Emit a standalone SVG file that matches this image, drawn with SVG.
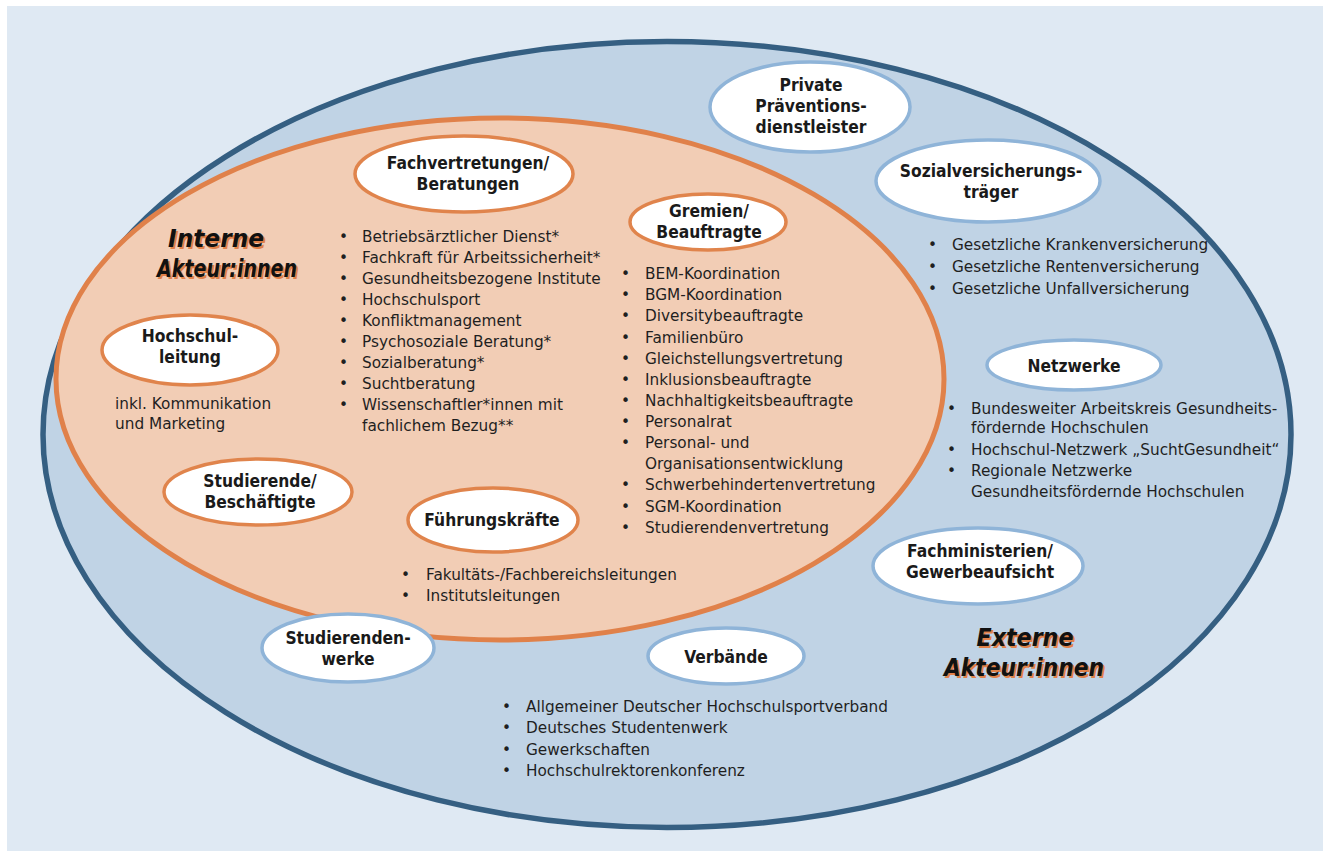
<svg xmlns="http://www.w3.org/2000/svg" width="1323" height="851" viewBox="0 0 1323 851">
<defs>
<style>
.lbl{font-family:"DejaVu Sans Condensed","DejaVu Sans",sans-serif;font-weight:bold;font-size:17.3px;fill:#1a1a1a;text-anchor:middle}
.txt{font-family:"DejaVu Sans",sans-serif;font-size:15.3px;fill:#1f1f1f}
.nb{fill:#ffffff;stroke:#8fb4d8;stroke-width:3.5}
.no{fill:#ffffff;stroke:#e0844c;stroke-width:3.5}
.ttl{font-family:"DejaVu Sans Condensed","DejaVu Sans",sans-serif;font-weight:bold;font-style:italic;font-size:24px;text-anchor:middle}
</style>
</defs>
<rect x="7" y="6" width="1316" height="845" fill="#dfe9f3"/>
<g id="extern">
<ellipse cx="667" cy="434.5" rx="624" ry="393" fill="#c0d3e5" stroke="#355f82" stroke-width="5.5"/>
</g>
<g id="intern">
<ellipse cx="500" cy="379" rx="444" ry="261" fill="#f2cdb5" stroke="#e0814a" stroke-width="5"/>
</g>
<g id="connectors"></g>
<g id="title-intern">
<text class="ttl" x="218" y="249" fill="#e0814a" textLength="96" lengthAdjust="spacingAndGlyphs">Interne</text>
<text class="ttl" x="216" y="247" fill="#111" textLength="96" lengthAdjust="spacingAndGlyphs">Interne</text>
<text class="ttl" x="229" y="279" fill="#e0814a" textLength="140" lengthAdjust="spacingAndGlyphs">Akteur:innen</text>
<text class="ttl" x="227" y="277" fill="#111" textLength="140" lengthAdjust="spacingAndGlyphs">Akteur:innen</text>
</g>
<g id="title-extern">
<text class="ttl" x="1027" y="648" fill="#e0814a" textLength="97" lengthAdjust="spacingAndGlyphs">Externe</text>
<text class="ttl" x="1025" y="646" fill="#111" textLength="97" lengthAdjust="spacingAndGlyphs">Externe</text>
<text class="ttl" x="1026" y="678" fill="#e0814a" textLength="160" lengthAdjust="spacingAndGlyphs">Akteur:innen</text>
<text class="ttl" x="1024" y="676" fill="#111" textLength="160" lengthAdjust="spacingAndGlyphs">Akteur:innen</text>
</g>
<g id="private">
<ellipse class="nb" cx="810" cy="107" rx="100" ry="45"/>
<text class="lbl" x="811" y="91">Private</text>
<text class="lbl" x="811" y="112">Präventions-</text>
<text class="lbl" x="811" y="133">dienstleister</text>
</g>
<g id="sozial">
<ellipse class="nb" cx="988" cy="181" rx="112" ry="41"/>
<text class="lbl" x="991" y="177">Sozialversicherungs-</text>
<text class="lbl" x="991" y="198">träger</text>
<text class="txt" x="928" y="250">•</text>
<text class="txt" x="952" y="250">Gesetzliche Krankenversicherung</text>
<text class="txt" x="928" y="272">•</text>
<text class="txt" x="952" y="272">Gesetzliche Rentenversicherung</text>
<text class="txt" x="928" y="294">•</text>
<text class="txt" x="952" y="294">Gesetzliche Unfallversicherung</text>
</g>
<g id="netzwerke">
<ellipse class="nb" cx="1074" cy="365" rx="87" ry="25"/>
<text class="lbl" x="1074" y="372">Netzwerke</text>
<text class="txt" x="947" y="414">•</text>
<text class="txt" x="971" y="414">Bundesweiter Arbeitskreis Gesundheits-</text>
<text class="txt" x="971" y="433">fördernde Hochschulen</text>
<text class="txt" x="947" y="455">•</text>
<text class="txt" x="971" y="455">Hochschul-Netzwerk „SuchtGesundheit“</text>
<text class="txt" x="947" y="476">•</text>
<text class="txt" x="971" y="476">Regionale Netzwerke</text>
<text class="txt" x="971" y="497">Gesundheitsfördernde Hochschulen</text>
</g>
<g id="fachministerien">
<ellipse class="nb" cx="978" cy="566" rx="105" ry="38"/>
<text class="lbl" x="980" y="557">Fachministerien/</text>
<text class="lbl" x="980" y="578">Gewerbeaufsicht</text>
</g>
<g id="verbaende">
<ellipse class="nb" cx="726" cy="656" rx="78" ry="28"/>
<text class="lbl" x="726" y="663">Verbände</text>
<text class="txt" x="502" y="712">•</text>
<text class="txt" x="526" y="712">Allgemeiner Deutscher Hochschulsportverband</text>
<text class="txt" x="502" y="733">•</text>
<text class="txt" x="526" y="733">Deutsches Studentenwerk</text>
<text class="txt" x="502" y="755">•</text>
<text class="txt" x="526" y="755">Gewerkschaften</text>
<text class="txt" x="502" y="776">•</text>
<text class="txt" x="526" y="776">Hochschulrektorenkonferenz</text>
</g>
<g id="studierendenwerke">
<ellipse class="nb" cx="348" cy="648" rx="86" ry="34"/>
<text class="lbl" x="348" y="644">Studierenden-</text>
<text class="lbl" x="348" y="665">werke</text>
</g>
<g id="fachvertretungen">
<ellipse class="no" cx="464" cy="174" rx="109" ry="38"/>
<text class="lbl" x="468" y="169">Fachvertretungen/</text>
<text class="lbl" x="468" y="190">Beratungen</text>
<text class="txt" x="339" y="242">•</text>
<text class="txt" x="362" y="242">Betriebsärztlicher Dienst*</text>
<text class="txt" x="339" y="263">•</text>
<text class="txt" x="362" y="263">Fachkraft für Arbeitssicherheit*</text>
<text class="txt" x="339" y="284">•</text>
<text class="txt" x="362" y="284">Gesundheitsbezogene Institute</text>
<text class="txt" x="339" y="305">•</text>
<text class="txt" x="362" y="305">Hochschulsport</text>
<text class="txt" x="339" y="326">•</text>
<text class="txt" x="362" y="326">Konfliktmanagement</text>
<text class="txt" x="339" y="347">•</text>
<text class="txt" x="362" y="347">Psychosoziale Beratung*</text>
<text class="txt" x="339" y="368">•</text>
<text class="txt" x="362" y="368">Sozialberatung*</text>
<text class="txt" x="339" y="389">•</text>
<text class="txt" x="362" y="389">Suchtberatung</text>
<text class="txt" x="339" y="410">•</text>
<text class="txt" x="362" y="410">Wissenschaftler*innen mit</text>
<text class="txt" x="362" y="431">fachlichem Bezug**</text>
</g>
<g id="gremien">
<ellipse class="no" cx="708" cy="222" rx="78" ry="28"/>
<text class="lbl" x="709" y="217">Gremien/</text>
<text class="lbl" x="709" y="238">Beauftragte</text>
<text class="txt" x="621" y="279">•</text>
<text class="txt" x="645" y="279">BEM-Koordination</text>
<text class="txt" x="621" y="300">•</text>
<text class="txt" x="645" y="300">BGM-Koordination</text>
<text class="txt" x="621" y="321">•</text>
<text class="txt" x="645" y="321">Diversitybeauftragte</text>
<text class="txt" x="621" y="343">•</text>
<text class="txt" x="645" y="343">Familienbüro</text>
<text class="txt" x="621" y="364">•</text>
<text class="txt" x="645" y="364">Gleichstellungsvertretung</text>
<text class="txt" x="621" y="385">•</text>
<text class="txt" x="645" y="385">Inklusionsbeauftragte</text>
<text class="txt" x="621" y="406">•</text>
<text class="txt" x="645" y="406">Nachhaltigkeitsbeauftragte</text>
<text class="txt" x="621" y="427">•</text>
<text class="txt" x="645" y="427">Personalrat</text>
<text class="txt" x="621" y="448">•</text>
<text class="txt" x="645" y="448">Personal- und</text>
<text class="txt" x="645" y="469">Organisationsentwicklung</text>
<text class="txt" x="621" y="490">•</text>
<text class="txt" x="645" y="490">Schwerbehindertenvertretung</text>
<text class="txt" x="621" y="512">•</text>
<text class="txt" x="645" y="512">SGM-Koordination</text>
<text class="txt" x="621" y="533">•</text>
<text class="txt" x="645" y="533">Studierendenvertretung</text>
</g>
<g id="hochschulleitung">
<ellipse class="no" cx="190" cy="350" rx="88" ry="35"/>
<text class="lbl" x="190" y="342">Hochschul-</text>
<text class="lbl" x="190" y="363">leitung</text>
<text class="txt" x="115" y="409">inkl. Kommunikation</text>
<text class="txt" x="115" y="429">und Marketing</text>
</g>
<g id="studierende">
<ellipse class="no" cx="258" cy="492" rx="94" ry="33"/>
<text class="lbl" x="260" y="487">Studierende/</text>
<text class="lbl" x="260" y="508">Beschäftigte</text>
</g>
<g id="fuehrungskraefte">
<ellipse class="no" cx="493" cy="520" rx="85" ry="32"/>
<text class="lbl" x="492" y="526">Führungskräfte</text>
<text class="txt" x="401" y="580">•</text>
<text class="txt" x="426" y="580">Fakultäts-/Fachbereichsleitungen</text>
<text class="txt" x="401" y="601">•</text>
<text class="txt" x="426" y="601">Institutsleitungen</text>
</g>
</svg>
